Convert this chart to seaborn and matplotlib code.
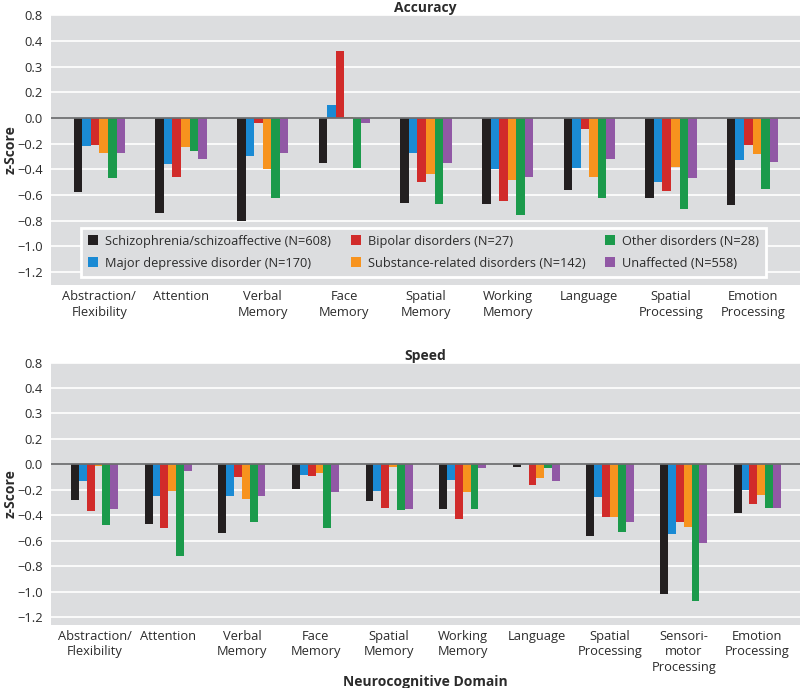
import numpy as np
import pandas as pd
import matplotlib
matplotlib.use("Agg")
import matplotlib.pyplot as plt
import seaborn as sns

# Группы пациентов (порядок столбиков и легенды)
groups = ["Schizophrenia/schizoaffective (N=608)",
          "Major depressive disorder (N=170)",
          "Bipolar disorders (N=27)",
          "Substance-related disorders (N=142)",
          "Other disorders (N=28)",
          "Unaffected (N=558)"]
colors = ["#231f20", "#1a8ad4", "#d12b2a", "#f7931e", "#1b9a4b", "#9158a5"]

# Accuracy
acc_domains = ["Abstraction/\nFlexibility", "Attention", "Verbal\nMemory", "Face\nMemory",
               "Spatial\nMemory", "Working\nMemory", "Language", "Spatial\nProcessing",
               "Emotion\nProcessing"]
acc_schizo = [-0.58, -0.74, -0.80, -0.35, -0.66, -0.67, -0.56, -0.62, -0.68]
acc_mdd = [-0.22, -0.36, -0.30, 0.10, -0.27, -0.40, -0.39, -0.50, -0.33]
acc_bipolar = [-0.21, -0.46, -0.04, 0.52, -0.50, -0.65, -0.09, -0.57, -0.21]
acc_substance = [-0.27, -0.23, -0.40, 0.01, -0.44, -0.48, -0.46, -0.38, -0.28]
acc_other = [-0.47, -0.26, -0.62, -0.39, -0.67, -0.76, -0.62, -0.71, -0.55]
acc_unaffected = [-0.27, -0.32, -0.27, -0.04, -0.35, -0.46, -0.32, -0.47, -0.34]

# Speed
speed_domains = ["Abstraction/\nFlexibility", "Attention", "Verbal\nMemory", "Face\nMemory",
                 "Spatial\nMemory", "Working\nMemory", "Language", "Spatial\nProcessing",
                 "Sensori-\nmotor\nProcessing", "Emotion\nProcessing"]
speed_schizo = [-0.28, -0.47, -0.54, -0.19, -0.29, -0.35, -0.02, -0.56, -1.02, -0.38]
speed_mdd = [-0.13, -0.25, -0.25, -0.08, -0.21, -0.12, 0.0, -0.26, -0.55, -0.20]
speed_bipolar = [-0.37, -0.50, -0.10, -0.09, -0.34, -0.43, -0.16, -0.41, -0.45, -0.31]
speed_substance = [-0.01, -0.21, -0.27, -0.07, -0.02, -0.22, -0.11, -0.41, -0.49, -0.24]
speed_other = [-0.48, -0.72, -0.45, -0.50, -0.36, -0.35, -0.03, -0.53, -1.07, -0.34]
speed_unaffected = [-0.35, -0.05, -0.25, -0.22, -0.35, -0.03, -0.13, -0.45, -0.62, -0.34]

# Подписи оси Y как на оригинале
ytick_pos = [0.8, 0.6, 0.4, 0.2, 0.0, -0.2, -0.4, -0.6, -0.8, -1.0, -1.2]
ytick_labels = ["0.8", "0.4", "0.3", "0.2", "0.0", "\u22120.2", "\u22120.4",
                "\u22120.6", "\u22120.8", "\u22121.0", "\u22121.2"]

bg = "#dcdddf"
txt = "#2b2b2b"
fs = 9.3      # подписи делений
fs_leg = 9.2  # легенда
fs_b = 10     # жирные заголовки
sns.set_style("white", {"axes.facecolor": bg})
plt.rcParams["font.family"] = ["Open Sans", "DejaVu Sans"]
plt.rcParams["font.size"] = fs


def make_df(domains, series):
    rows = []
    for g, vals in zip(groups, series):
        for d, v in zip(domains, vals):
            rows.append({"domain": d, "group": g, "z": v})
    return pd.DataFrame(rows)


def draw_panel(ax, domains, series, width, ylim, title, legend):
    df = make_df(domains, series)
    sns.barplot(data=df, x="domain", y="z", hue="group", order=domains,
                hue_order=groups, palette=colors, width=width, gap=0,
                saturation=1, linewidth=0, errorbar=None, legend=legend, ax=ax)
    ax.set_xlim(-0.59, len(domains) - 0.42)
    ax.set_ylim(*ylim)
    ax.set_yticks(ytick_pos)
    ax.set_yticklabels(ytick_labels)
    ax.set_axisbelow(True)
    ax.yaxis.grid(True, color="white", linewidth=1.2)
    ax.xaxis.grid(False)
    ax.axhline(0, color="#6d6e70", linewidth=1.3, zorder=3)
    for s in ax.spines.values():
        s.set_visible(False)
    ax.tick_params(axis="both", length=0, labelsize=fs, colors=txt)
    ax.tick_params(axis="y", pad=6)
    ax.tick_params(axis="x", pad=4)
    for lab in ax.get_xticklabels():
        lab.set_linespacing(1.22)
    ax.set_title(title, fontsize=fs_b, fontweight="bold", pad=2, color=txt)
    ax.set_ylabel("z-Score", fontsize=fs_b, fontweight="bold", color=txt)
    ax.yaxis.set_label_coords(-0.045, 0.5)
    ax.set_xlabel("")


fig = plt.figure(figsize=(8, 6.88), dpi=100)
ax1 = fig.add_axes([0.064, 0.586, 0.936, 0.392])
ax2 = fig.add_axes([0.064, 0.092, 0.936, 0.381])

draw_panel(ax1, acc_domains,
           [acc_schizo, acc_mdd, acc_bipolar, acc_substance, acc_other, acc_unaffected],
           0.63, (-1.30, 0.8), "Accuracy", True)
draw_panel(ax2, speed_domains,
           [speed_schizo, speed_mdd, speed_bipolar, speed_substance, speed_other, speed_unaffected],
           0.64, (-1.26, 0.8), "Speed", False)
ax2.set_xlabel("Neurocognitive Domain", fontsize=fs_b, fontweight="bold", color=txt)
ax2.xaxis.set_label_coords(0.5, -0.19)

sns.move_legend(ax1, "lower left", bbox_to_anchor=(0.04, 0.03), ncol=3, title=None,
                frameon=True, fancybox=False, facecolor=bg, edgecolor="white",
                framealpha=1, handlelength=0.8, handleheight=0.8, handletextpad=0.55,
                columnspacing=1.5, borderpad=0.55, labelspacing=0.7, borderaxespad=0,
                fontsize=fs_leg, labelcolor=txt)
ax1.get_legend().get_frame().set_linewidth(2)

fig.savefig("out.png", dpi=100)
